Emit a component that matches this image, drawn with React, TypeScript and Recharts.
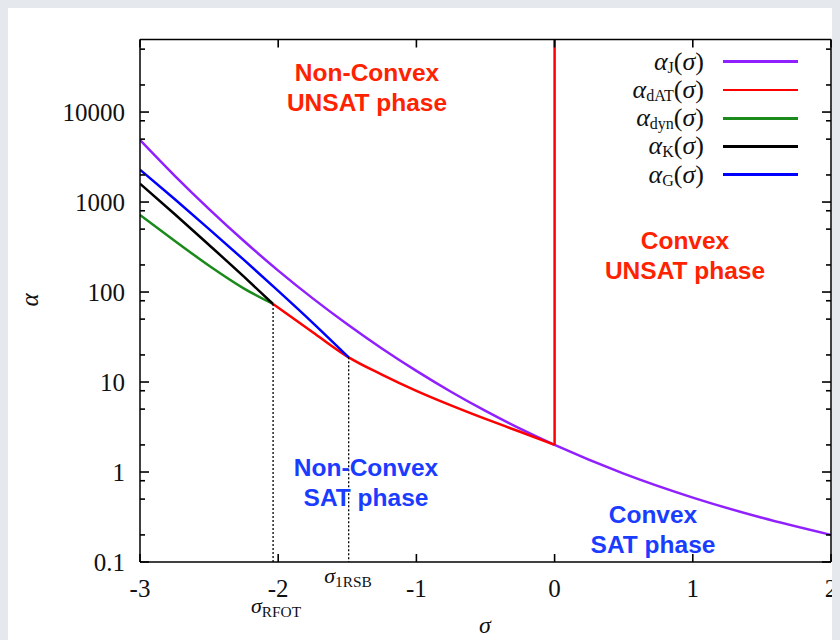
import { useLayoutEffect } from 'react';
import { Legend, Line, LineChart, XAxis, YAxis } from 'recharts';

// values (sigma, alpha)
const alphaJ = [
  { s: -3, a: 4900 }, { s: -2.75, a: 1970 }, { s: -2.5, a: 835 }, { s: -2.25, a: 371 },
  { s: -2, a: 173 }, { s: -1.75, a: 85 }, { s: -1.5, a: 43.8 }, { s: -1.25, a: 23.6 },
  { s: -1, a: 13.3 }, { s: -0.75, a: 7.8 }, { s: -0.5, a: 4.77 }, { s: -0.25, a: 3.03 },
  { s: 0, a: 2 }, { s: 0.5, a: 0.96 }, { s: 1, a: 0.52 }, { s: 1.5, a: 0.31 }, { s: 2, a: 0.2 },
];
const alphaDAT = [
  { s: -2.037, a: 73.6 }, { s: -1.75, a: 35.8 }, { s: -1.49, a: 18.8 }, { s: -1.25, a: 12.1 },
  { s: -1, a: 7.98 }, { s: -0.75, a: 5.5 }, { s: -0.5, a: 3.89 }, { s: -0.25, a: 2.8 }, { s: 0, a: 2 },
];
const alphaDATWall = [{ s: 0, a: 2 }, { s: 0, a: 64000 }];
const alphaDyn = [
  { s: -3, a: 717 }, { s: -2.75, a: 372 }, { s: -2.5, a: 196 }, { s: -2.25, a: 110 }, { s: -2.037, a: 73.6 },
];
const alphaK = [
  { s: -3, a: 1600 }, { s: -2.75, a: 736 }, { s: -2.5, a: 333 }, { s: -2.25, a: 149 }, { s: -2.037, a: 73.6 },
];
const alphaG = [
  { s: -3, a: 2290 }, { s: -2.75, a: 1080 }, { s: -2.5, a: 500 }, { s: -2.25, a: 229 },
  { s: -2, a: 103 }, { s: -1.75, a: 45.5 }, { s: -1.49, a: 18.8 },
];
const rfotDrop = [{ s: -2.037, a: 73.6 }, { s: -2.037, a: 0.1 }];
const rsbDrop = [{ s: -1.49, a: 18.8 }, { s: -1.49, a: 0.1 }];

const xTicks = [-3, -2, -1, 0, 1, 2];
const yMajor = [0.1, 1, 10, 100, 1000, 10000];
const yMinor = [0.2, 0.5, 0.8, 2, 5, 8, 20, 50, 80, 200, 500, 800, 2000, 5000, 8000, 20000, 50000];
const yTicks = [...yMajor, ...yMinor].sort((p, q) => p - q);

const legendOrder = ['J', 'dAT', 'dyn', 'K', 'G'];

const SERIF = '"Liberation Serif", "DejaVu Serif", serif';
const SANS = '"Liberation Sans", Arial, sans-serif';
const RED_TXT = '#ff2200';
const BLUE_TXT = '#1a3cff';
const TICK_W = 1.6;

function LeftTick(props: any) {
  const { x, y, payload } = props;
  const major = yMajor.includes(payload.value);
  return (
    <g>
      <line x1={x} x2={x + (major ? 9 : 5)} y1={y} y2={y} stroke="#000" strokeWidth={TICK_W} />
      {major && (
        <text x={x - 15} y={y} dy="0.35em" textAnchor="end" fontFamily={SERIF} fontSize={25} fill="#111">
          {String(payload.value)}
        </text>
      )}
    </g>
  );
}

function RightTick(props: any) {
  const { x, y, payload } = props;
  const major = yMajor.includes(payload.value);
  return <line x1={x} x2={x - (major ? 9 : 5)} y1={y} y2={y} stroke="#000" strokeWidth={TICK_W} />;
}

function BottomTick(props: any) {
  const { x, y, payload } = props;
  return (
    <g>
      <line x1={x} x2={x} y1={y} y2={y - 8} stroke="#000" strokeWidth={TICK_W} />
      <text x={x} y={y + 26} dy="0.35em" textAnchor="middle" fontFamily={SERIF} fontSize={25} fill="#111">
        {String(payload.value)}
      </text>
    </g>
  );
}

function TopTick(props: any) {
  const { x, y } = props;
  return <line x1={x} x2={x} y1={y} y2={y + 8} stroke="#000" strokeWidth={TICK_W} />;
}

function LegendBox(props: any) {
  const items = (props.payload || [])
    .filter((p: any) => legendOrder.includes(p.value))
    .sort((p: any, q: any) => legendOrder.indexOf(p.value) - legendOrder.indexOf(q.value));
  return (
    <div style={{ fontFamily: SERIF, fontSize: 26, color: '#111' }}>
      {items.map((p: any) => (
        <div key={p.value} style={{ display: 'flex', alignItems: 'center', justifyContent: 'flex-end', height: 28.25 }}>
          <span style={{ whiteSpace: 'nowrap', lineHeight: '22px', height: 22 }}>
            <i>α</i>
            <span style={{ fontSize: 16, position: 'relative', top: 3, lineHeight: '16px' }}>{p.value}</span>
            (<i>σ</i>)
          </span>
          <span style={{ display: 'inline-block', width: 75, height: 2.6, background: p.color, marginLeft: 19 }} />
        </div>
      ))}
    </div>
  );
}

function Note({ x, y, color, lines }: { x: number; y: number; color: string; lines: string[] }) {
  return (
    <div
      style={{
        position: 'absolute', left: x, top: y, transform: 'translate(-50%, -15px)', color,
        fontFamily: SANS, fontWeight: 'bold', fontSize: 24.5, lineHeight: '29.5px', textAlign: 'center', whiteSpace: 'nowrap',
      }}
    >
      {lines.map((l) => <div key={l}>{l}</div>)}
    </div>
  );
}

function Sub({ x, y, main, sub, size = 22 }: { x: number; y: number; main: string; sub?: string; size?: number }) {
  return (
    <div style={{ position: 'absolute', left: x, top: y, transform: 'translate(-50%, -50%)', fontFamily: SERIF, fontSize: size, color: '#111', whiteSpace: 'nowrap', lineHeight: 1 }}>
      <i>{main}</i>
      {sub && <span style={{ fontSize: size * 0.7, position: 'relative', top: 4 }}>{sub}</span>}
    </div>
  );
}

export default function App() {
  useLayoutEffect(() => {
    document.body.style.background = '#e5e8ec';
  }, []);

  return (
    <div style={{ position: 'relative', width: 832, height: 632, background: '#fff', overflow: 'hidden' }}>
      <LineChart width={832} height={632} margin={{ top: 30.5, right: 8, bottom: 0, left: 0 }}>
        <XAxis
          dataKey="s" type="number" domain={[-3, 2]} ticks={xTicks} interval={0} allowDataOverflow
          height={78} tickSize={0} tickMargin={0} tickLine={false} tick={BottomTick}
          axisLine={{ stroke: '#000', strokeWidth: 1.5 }}
        />
        <XAxis
          xAxisId="top" orientation="top" dataKey="s" type="number" domain={[-3, 2]} ticks={xTicks} interval={0}
          allowDataOverflow height={1} tickSize={0} tickMargin={0} tickLine={false} tick={TopTick}
          axisLine={{ stroke: '#000', strokeWidth: 1.5 }}
        />
        <YAxis
          type="number" scale="log" domain={[0.1, 64000]} ticks={yTicks} interval={0} allowDataOverflow
          width={132} tickSize={0} tickMargin={0} tickLine={false} tick={LeftTick}
          axisLine={{ stroke: '#000', strokeWidth: 1.5 }}
        />
        <YAxis
          yAxisId="right" orientation="right" type="number" scale="log" domain={[0.1, 64000]} ticks={yTicks}
          interval={0} allowDataOverflow width={1} tickSize={0} tickMargin={0} tickLine={false} tick={RightTick}
          axisLine={{ stroke: '#000', strokeWidth: 1.5 }}
        />
        <Legend
          layout="vertical" align="center" verticalAlign="middle" content={LegendBox}
          wrapperStyle={{ left: 540, top: 39.6, width: 250 }}
        />
        <Line name="J" data={alphaJ} dataKey="a" type="monotone" stroke="#9020ff" strokeWidth={2.5} dot={false} activeDot={false} isAnimationActive={false} />
        <Line name="dAT" data={alphaDAT} dataKey="a" type="monotone" stroke="#ff0000" strokeWidth={2.5} dot={false} activeDot={false} isAnimationActive={false} />
        <Line name="dyn" data={alphaDyn} dataKey="a" type="monotone" stroke="#1a8a1a" strokeWidth={2.5} dot={false} activeDot={false} isAnimationActive={false} />
        <Line name="K" data={alphaK} dataKey="a" type="monotone" stroke="#000000" strokeWidth={2.5} dot={false} activeDot={false} isAnimationActive={false} />
        <Line name="G" data={alphaG} dataKey="a" type="monotone" stroke="#0000ff" strokeWidth={2.5} dot={false} activeDot={false} isAnimationActive={false} />
        <Line name="wall" data={alphaDATWall} dataKey="a" type="linear" stroke="#ff0000" strokeWidth={2.5} dot={false} activeDot={false} legendType="none" isAnimationActive={false} />
        <Line name="rfot" data={rfotDrop} dataKey="a" type="linear" stroke="#000" strokeWidth={1.3} strokeDasharray="2 2" dot={false} activeDot={false} legendType="none" isAnimationActive={false} />
        <Line name="rsb" data={rsbDrop} dataKey="a" type="linear" stroke="#000" strokeWidth={1.3} strokeDasharray="2 2" dot={false} activeDot={false} legendType="none" isAnimationActive={false} />
      </LineChart>

      <Note x={359} y={65} color={RED_TXT} lines={['Non-Convex', 'UNSAT phase']} />
      <Note x={677} y={233} color={RED_TXT} lines={['Convex', 'UNSAT phase']} />
      <Note x={358} y={460} color={BLUE_TXT} lines={['Non-Convex', 'SAT phase']} />
      <Note x={645} y={507} color={BLUE_TXT} lines={['Convex', 'SAT phase']} />

      <Sub x={340} y={568} main="σ" sub="1RSB" />
      <Sub x={268} y={598} main="σ" sub="RFOT" />
      <Sub x={477} y={617} main="σ" size={24} />
      <div style={{ position: 'absolute', left: 22, top: 292, transform: 'translate(-50%, -50%) rotate(-90deg)', fontFamily: SERIF, fontSize: 25, fontStyle: 'italic', color: '#111' }}>
        α
      </div>
    </div>
  );
}
